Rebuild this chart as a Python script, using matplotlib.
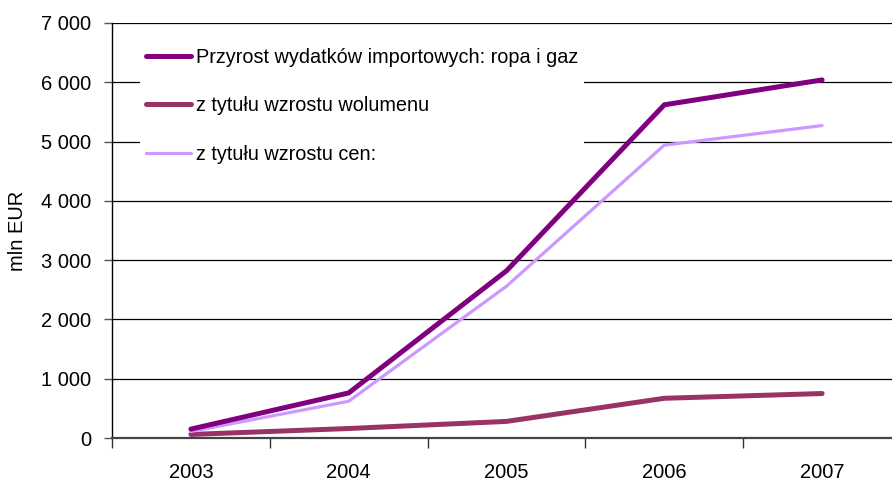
import matplotlib.pyplot as plt
from matplotlib.ticker import FuncFormatter

years = ["2003", "2004", "2005", "2006", "2007"]
total = [150, 760, 2820, 5620, 6040]
volume = [60, 160, 280, 670, 750]
price = [110, 620, 2560, 4940, 5270]

labels = ["Przyrost wydatków importowych: ropa i gaz",
          "z tytułu wzrostu wolumenu",
          "z tytułu wzrostu cen:"]

plt.rcParams["font.family"] = ["Liberation Sans", "DejaVu Sans"]

W, H = 892, 482
fig = plt.figure(figsize=(W / 100, H / 100), dpi=100)
ax = fig.add_axes([112 / W, 1 - 438 / H, (901 - 112) / W, (438 - 23) / H])

x = list(range(len(years)))
ax.plot(x, total, color="#800080", lw=3.6, solid_capstyle="round",
        solid_joinstyle="miter", label=labels[0], zorder=4)
ax.plot(x, volume, color="#993366", lw=3.6, solid_capstyle="round",
        solid_joinstyle="miter", label=labels[1], zorder=3)
ax.plot(x, price, color="#CC99FF", lw=2.3, solid_capstyle="round",
        solid_joinstyle="miter", label=labels[2], zorder=3)

ax.set_xlim(-0.5, len(years) - 0.5)
ax.set_ylim(0, 7000)
ax.set_yticks(range(0, 7001, 1000))
ax.yaxis.set_major_formatter(FuncFormatter(lambda v, p: f"{int(v):,}".replace(",", " ")))
ax.set_xticks(x)
ax.set_xticklabels(years)
ax.set_xticks([i - 0.5 for i in range(len(years) + 1)], minor=True)

ax.grid(axis="y", color="black", lw=0.9, zorder=1)
ax.tick_params(axis="y", which="major", direction="out", length=6, width=1,
               color="#555555", pad=9, labelsize=14.5)
ax.tick_params(axis="x", which="major", length=0, pad=18, labelsize=14.5)
ax.tick_params(axis="x", which="minor", direction="out", length=7, width=1,
               color="#333333")

for s in ["top", "right"]:
    ax.spines[s].set_visible(False)
ax.spines["left"].set_color("black")
ax.spines["left"].set_linewidth(1.0)
ax.spines["bottom"].set_color("#444444")
ax.spines["bottom"].set_linewidth(1.6)
ax.axhline(7000, color="#777777", lw=1.2, zorder=1)

ax.set_ylabel("mln EUR", fontsize=14.5)
ax.yaxis.set_label_coords(-0.108, 0.5)

leg = ax.legend(loc="upper left", bbox_to_anchor=(0.035, 0.955), fontsize=14.3,
                frameon=True, framealpha=1.0, facecolor="white", edgecolor="none",
                fancybox=False, handlelength=2.3, handletextpad=0.25,
                labelspacing=1.5, borderpad=0.3, borderaxespad=0)
leg.set_zorder(5)

fig.savefig("out.png", dpi=100)
